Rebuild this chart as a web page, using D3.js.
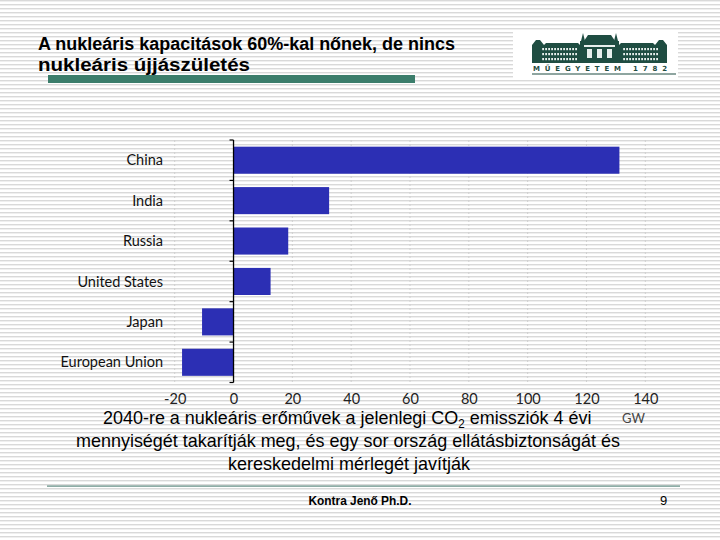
<!DOCTYPE html>
<html>
<head>
<meta charset="utf-8">
<script src="https://cdn.jsdelivr.net/npm/d3@7"></script>
<style>
  html, body { margin: 0; padding: 0; background: #fff; }
  svg { display: block; }
</style>
</head>
<body>
<svg id="chart" width="720" height="540"></svg>
<script>
// ---- data ----
const categories = ["China", "India", "Russia", "United States", "Japan", "European Union"];
const values = [131.2, 32.5, 18.6, 12.6, -10.7, -17.5];
const xTicks = [-20, 0, 20, 40, 60, 80, 100, 120, 140];
const unitLabel = "GW";
const titleLines = ["A nukleáris kapacitások 60%-kal nőnek, de nincs", "nukleáris újjászületés"];
const captionLines = [
  ["2040-re a nukleáris erőművek a jelenlegi CO", "2", " emissziók 4 évi"],
  ["mennyiségét takarítják meg, és egy sor ország ellátásbiztonságát és"],
  ["kereskedelmi mérlegét javítják"]
];
const footerText = "Kontra Jenő Ph.D.";
const pageNumber = "9";
const logoText = "MŰEGYETEM 1782";

const svg = d3.select("#chart");
const W = 720, H = 540;

// ---- striped background ----
const defs = svg.append("defs");
const pat = defs.append("pattern").attr("id", "stripes")
  .attr("width", 8).attr("height", 4).attr("patternUnits", "userSpaceOnUse");
pat.append("rect").attr("width", 8).attr("height", 4).attr("fill", "#ffffff");
pat.append("rect").attr("y", 0).attr("width", 8).attr("height", 1.4).attr("fill", "#d9d9d9");
svg.append("rect").attr("width", W).attr("height", H).attr("fill", "url(#stripes)");

// ---- title ----
const narrow = "'Liberation Sans Narrow', 'Arial Narrow', 'Liberation Sans', Arial, sans-serif";
const titleW = [417, 212];
titleLines.forEach((t, i) => {
  svg.append("text")
    .attr("x", 38).attr("y", 50 + i * 21)
    .attr("font-family", narrow).attr("font-weight", "bold")
    .attr("font-size", 18).attr("fill", "#000")
    .attr("textLength", titleW[i]).attr("lengthAdjust", "spacingAndGlyphs")
    .text(t);
});
svg.append("rect").attr("x", 48).attr("y", 75).attr("width", 367).attr("height", 8).attr("fill", "#3b7d6b");

// ---- logo ----
const logo = svg.append("g");
const lc = "#1f4d42";
logo.append("rect").attr("x", 513).attr("y", 31).attr("width", 165).attr("height", 47).attr("fill", "#fff");
logo.append("rect").attr("x", 532).attr("y", 45).attr("width", 135).attr("height", 18).attr("fill", lc);
[[541, 577], [622, 658]].forEach(([a, b]) => {
  [48, 53, 58].forEach(yy => {
    logo.append("rect").attr("x", a).attr("y", yy).attr("width", b - a).attr("height", 2.2).attr("fill", "#e8efed");
  });
  for (let xx = a; xx <= b; xx += 3) {
    logo.append("rect").attr("x", xx).attr("y", 47).attr("width", 1.2).attr("height", 14).attr("fill", lc);
  }
});
logo.append("path").attr("d", "M532,45 L536,40 L540,40 L544,45 Z M655,45 L659,40 L663,40 L667,45 Z").attr("fill", lc);
logo.append("path").attr("d", "M544,45 L546,43 L578,43 L580,45 Z M619,45 L621,43 L653,43 L655,45 Z").attr("fill", lc);
logo.append("rect").attr("x", 580).attr("y", 41).attr("width", 39).attr("height", 22).attr("fill", lc);
logo.append("path").attr("d", "M584,41 L588,35 L611,35 L615,41 Z").attr("fill", lc);
logo.append("path").attr("d", "M581,41 L583,33 L585,41 Z M614,41 L616,33 L618,41 Z").attr("fill", lc);
[[587, 49], [597, 49], [607, 49]].forEach(([xx, yy]) => {
  logo.append("rect").attr("x", xx).attr("y", yy).attr("width", 5).attr("height", 9).attr("fill", "#e8efed");
});
logo.append("rect").attr("x", 584).attr("y", 45).attr("width", 31).attr("height", 2).attr("fill", "#e8efed");
logo.append("text").attr("x", 533).attr("y", 71)
  .attr("font-family", "'DejaVu Sans', sans-serif").attr("font-weight", "bold")
  .attr("font-size", 7).attr("fill", lc)
  .attr("textLength", 134).attr("lengthAdjust", "spacing")
  .text(logoText);
logo.append("rect").attr("x", 532).attr("y", 73.5).attr("width", 144).attr("height", 1).attr("fill", lc);

// ---- chart ----
const x = d3.scaleLinear().domain([-20, 140]).range([174.7, 645.3]);
const y = d3.scaleBand().domain(categories).range([140, 382.5]).paddingInner(0.33).paddingOuter(0.165);

svg.append("g").selectAll("line").data(xTicks.filter(d => d !== 0)).join("line")
  .attr("x1", d => x(d)).attr("x2", d => x(d))
  .attr("y1", 140).attr("y2", 384)
  .attr("stroke", "#cfcfcf").attr("stroke-width", 1).attr("stroke-dasharray", "2,2");

svg.append("g").selectAll("rect").data(categories).join("rect")
  .attr("x", (d, i) => x(Math.min(0, values[i])))
  .attr("y", d => y(d))
  .attr("width", (d, i) => Math.abs(x(values[i]) - x(0)))
  .attr("height", y.bandwidth())
  .attr("fill", "#2c2fb4");

const xAxis = d3.axisBottom(x).tickValues(xTicks).tickSize(0).tickPadding(0).tickFormat(d => String(d));
const gx = svg.append("g").attr("transform", "translate(0,390)").call(xAxis);
gx.select(".domain").remove();
gx.selectAll("text").attr("font-family", "Lato, 'Open Sans', sans-serif").attr("font-size", 14.5)
  .attr("fill", "#222").attr("dy", "0.95em").attr("y", 0);

svg.append("text").attr("x", 622).attr("y", 423)
  .attr("font-family", "Lato, 'Open Sans', sans-serif").attr("font-size", 13)
  .attr("fill", "#444").text(unitLabel);

const axisX = x(0);
svg.append("line").attr("x1", axisX).attr("x2", axisX).attr("y1", y.range()[0]).attr("y2", y.range()[1])
  .attr("stroke", "#000").attr("stroke-width", 1.3);
const boundaries = d3.range(categories.length + 1).map(i => y.range()[0] + i * y.step());
svg.append("g").selectAll("line").data(boundaries).join("line")
  .attr("x1", axisX - 4).attr("x2", axisX).attr("y1", d => d).attr("y2", d => d)
  .attr("stroke", "#000").attr("stroke-width", 1.2);

svg.append("g").selectAll("text").data(categories).join("text")
  .attr("x", 163).attr("y", d => y(d) + y.bandwidth() / 2)
  .attr("dy", "0.35em").attr("text-anchor", "end")
  .attr("font-family", "Lato, 'Open Sans', sans-serif").attr("font-size", 14.5)
  .attr("fill", "#111").text(d => d);

// ---- caption ----
const capX = [103, 76, 228], capW = [489, 544, 242];
captionLines.forEach((parts, i) => {
  if (parts.length === 1) {
    svg.append("text").attr("x", capX[i]).attr("y", 424 + i * 23)
      .attr("font-family", narrow).attr("font-size", 18.5).attr("fill", "#000")
      .attr("textLength", capW[i]).attr("lengthAdjust", "spacingAndGlyphs").text(parts[0]);
  } else {
    const t = svg.append("text").attr("x", 0).attr("y", 0)
      .attr("font-family", narrow).attr("font-size", 18.5).attr("fill", "#000");
    t.append("tspan").text(parts[0]);
    t.append("tspan").attr("font-size", 12).attr("dy", 4).text(parts[1]);
    t.append("tspan").attr("dy", -4).text(parts[2]);
    const w = t.node().getComputedTextLength();
    t.attr("transform", `translate(${capX[i]},${424 + i * 23}) scale(${capW[i] / w},1)`);
  }
});

// ---- footer ----
svg.append("rect").attr("x", 47).attr("y", 485.5).attr("width", 633).attr("height", 1.2).attr("fill", "#5e8a80");
svg.append("text").attr("x", 360).attr("y", 505).attr("text-anchor", "middle")
  .attr("font-family", narrow).attr("font-weight", "bold").attr("font-size", 13)
  .attr("textLength", 103).attr("lengthAdjust", "spacingAndGlyphs")
  .text(footerText);
svg.append("text").attr("x", 660).attr("y", 505)
  .attr("font-family", narrow).attr("font-size", 13).text(pageNumber);
</script>
</body>
</html>
